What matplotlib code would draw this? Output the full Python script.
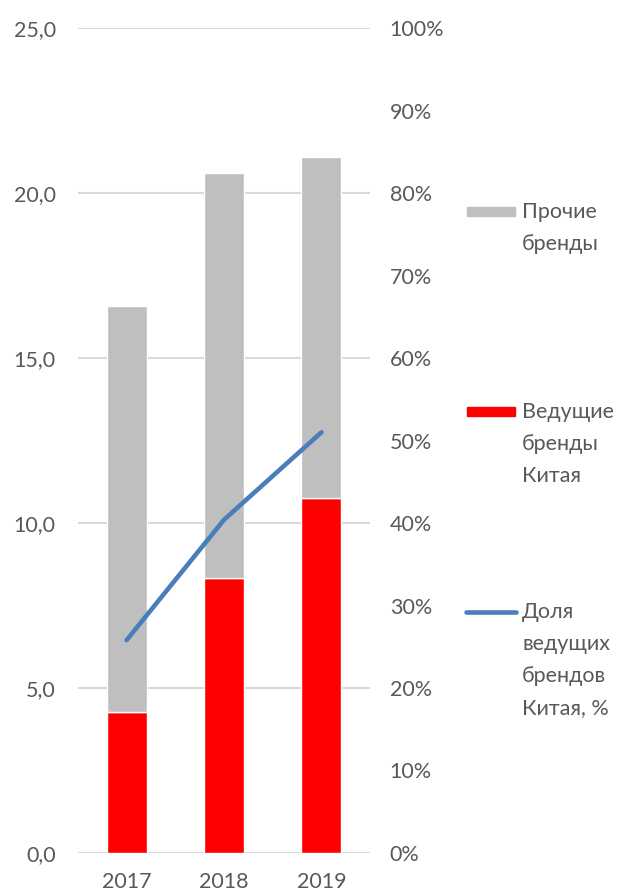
import matplotlib.pyplot as plt
from matplotlib.lines import Line2D
from matplotlib.patches import Rectangle

plt.rcParams['font.family'] = ['Lato', 'DejaVu Sans']

years = ['2017', '2018', '2019']
china_top = [4.27, 8.33, 10.76]   # ведущие бренды Китая
others = [12.31, 12.27, 10.33]    # прочие бренды
share = [25.8, 40.4, 51.0]        # доля, %

left_ticks = [0, 5, 10, 15, 20, 25]
right_ticks = [0, 10, 20, 30, 40, 50, 60, 70, 80, 90, 100]

grey_txt = '#595959'
c_grey = '#bfbfbf'
c_red = '#ff0000'
c_blue = '#4a7ebb'
fs = 15.5

fig = plt.figure(figsize=(6.18, 8.93), dpi=100)
ax = fig.add_axes([0.126, 0.0448, 0.473, 0.9238])

x = list(range(len(years)))
ax.bar(x, china_top, width=0.41, color=c_red, edgecolor='white', linewidth=1, zorder=3)
ax.bar(x, others, width=0.41, bottom=china_top, color=c_grey, edgecolor='white',
       linewidth=1, zorder=3)

ax.set_xlim(-0.5, 2.5)
ax.set_ylim(0, 25)
ax.set_yticks(left_ticks)
ax.set_yticklabels(['{:.1f}'.format(v).replace('.', ',') for v in left_ticks])
ax.set_xticks(x)
ax.set_xticklabels(years)
ax.yaxis.grid(True, color='#d9d9d9', linewidth=1.5, zorder=0)
ax.set_axisbelow(True)
for s in ax.spines.values():
    s.set_visible(False)
ax.tick_params(axis='both', length=0, labelsize=fs, colors=grey_txt)
ax.tick_params(axis='y', pad=16)
ax.tick_params(axis='x', pad=14)

ax2 = ax.twinx()
ax2.plot(x, share, color=c_blue, linewidth=3.3, solid_capstyle='round', zorder=4)
ax2.set_ylim(0, 100)
ax2.set_yticks(right_ticks)
ax2.set_yticklabels(['{}%'.format(v) for v in right_ticks])
for s in ax2.spines.values():
    s.set_visible(False)
ax2.tick_params(axis='y', length=0, labelsize=fs, colors=grey_txt, pad=14)

# legend drawn by hand to keep the wide spacing between entries
W, H = 618.0, 893.0
def fx(px):
    return px / W
def fy(py):
    return 1 - py / H

fig.add_artist(Rectangle((fx(467), fy(216)), fx(515) - fx(467), 9 / H,
                         transform=fig.transFigure, color=c_grey))
fig.add_artist(Rectangle((fx(467), fy(416)), fx(515) - fx(467), 9 / H,
                         transform=fig.transFigure, color=c_red))
fig.add_artist(Line2D([fx(466), fx(516)], [fy(612), fy(612)], transform=fig.transFigure,
                      color=c_blue, linewidth=3.3, solid_capstyle='round'))

legend_txt = [
    (212, ['Прочие', 'бренды']),
    (412, ['Ведущие', 'бренды', 'Китая']),
    (612, ['Доля', 'ведущих', 'брендов', 'Китая, %']),
]
for y0, lines in legend_txt:
    for i, t in enumerate(lines):
        fig.text(fx(522), fy(y0 + i * 32), t, fontsize=fs, color=grey_txt,
                 ha='left', va='center')

fig.savefig('out.png', dpi=100)
